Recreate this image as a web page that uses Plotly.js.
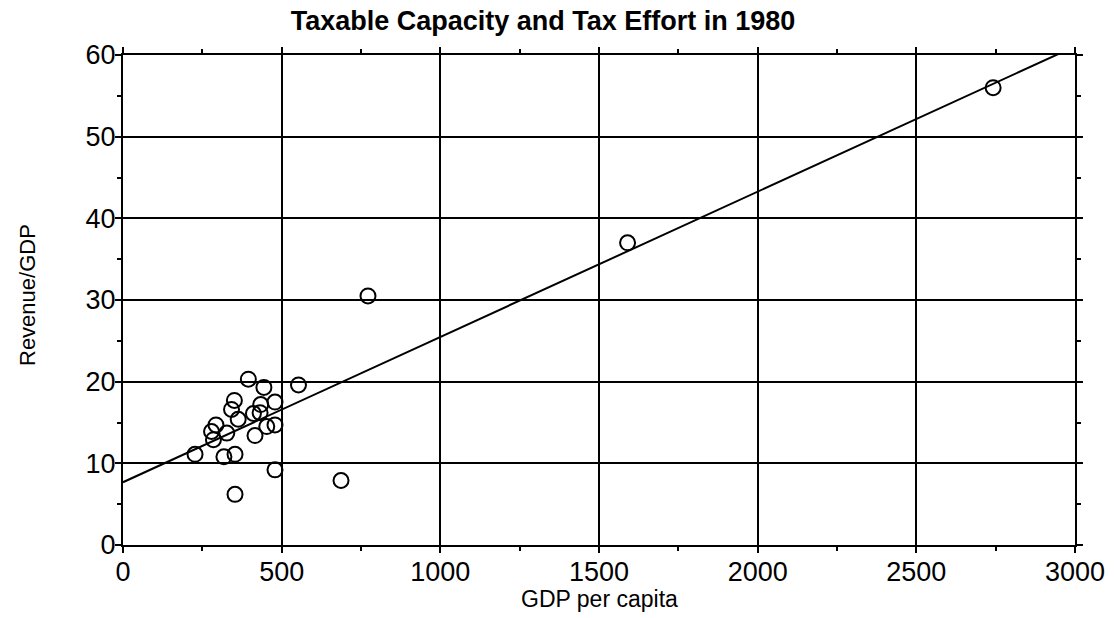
<!DOCTYPE html>
<html>
<head>
<meta charset="utf-8">
<script src="https://cdn.plot.ly/plotly-3.0.1.min.js"></script>
<style>html,body{margin:0;padding:0;background:#fff;}#chart{width:1114px;height:618px;}</style>
</head>
<body>
<div id="chart"></div>
<script>
// GDP per capita and Revenue/GDP (%)
const gdpPerCapita = [227, 279, 285, 293, 318, 327, 342, 351, 353, 353, 363, 395, 411, 416, 432, 434, 444, 453, 479, 479, 479, 553, 687, 772, 1590, 2742];
const revenueGdp   = [11.1, 13.9, 12.9, 14.7, 10.8, 13.7, 16.6, 17.7, 11.1, 6.2, 15.4, 20.3, 16.1, 13.4, 16.2, 17.2, 19.3, 14.5, 17.5, 14.7, 9.2, 19.6, 7.9, 30.5, 37.0, 56.0];
const xTicks = [0, 500, 1000, 1500, 2000, 2500, 3000];
const yTicks = [0, 10, 20, 30, 40, 50, 60];
const xRange = [0, 3000];
const yRange = [0, 60];

// Ordinary least squares fit line
const n = gdpPerCapita.length;
const mx = gdpPerCapita.reduce((a, b) => a + b, 0) / n;
const my = revenueGdp.reduce((a, b) => a + b, 0) / n;
let sxy = 0, sxx = 0;
for (let i = 0; i < n; i++) {
  sxy += (gdpPerCapita[i] - mx) * (revenueGdp[i] - my);
  sxx += (gdpPerCapita[i] - mx) ** 2;
}
const slope = sxy / sxx;
const intercept = my - slope * mx;
const fitX = xRange.slice();
const fitY = fitX.map(x => intercept + slope * x);

const font = 'Liberation Sans, Arial, sans-serif';

const traces = [
  {
    x: fitX, y: fitY, mode: 'lines', type: 'scatter',
    line: {color: 'black', width: 2}, hoverinfo: 'skip', showlegend: false
  },
  {
    x: gdpPerCapita, y: revenueGdp, mode: 'markers', type: 'scatter',
    marker: {symbol: 'circle-open', size: 15, color: 'black', line: {color: 'black', width: 2}},
    showlegend: false, cliponaxis: false
  }
];

const axisCommon = {
  showline: true, linecolor: 'black', linewidth: 2, mirror: 'allticks',
  ticks: 'outside', ticklen: 6, tickwidth: 2, tickcolor: 'black',
  showgrid: true, gridcolor: 'black', gridwidth: 2,
  zeroline: false,
  tickfont: {family: font, size: 27, color: 'black'}
};

const layout = {
  width: 1114, height: 618,
  paper_bgcolor: 'white', plot_bgcolor: 'white',
  margin: {l: 123, r: 39, t: 55, b: 73, pad: 0},
  title: {
    text: '<b>Taxable Capacity and Tax Effort in 1980</b>',
    font: {family: font, size: 27, color: 'black'},
    x: 543 / 1114, xanchor: 'center', xref: 'container',
    y: 1 - 21 / 618, yanchor: 'middle', yref: 'container'
  },
  xaxis: Object.assign({}, axisCommon, {
    range: xRange, tickvals: xTicks, ticktext: xTicks.map(String),
    ticklabelstandoff: -4,
    minor: {dtick: 250, tick0: 0, ticks: 'outside', ticklen: 4, tickwidth: 2, tickcolor: 'black', showgrid: false}
  }),
  yaxis: Object.assign({}, axisCommon, {
    range: yRange, tickvals: yTicks, ticktext: yTicks.map(String),
    ticklabelstandoff: -6,
    minor: {dtick: 5, tick0: 0, ticks: 'outside', ticklen: 4, tickwidth: 2, tickcolor: 'black', showgrid: false}
  }),
  annotations: [
    {
      text: 'GDP per capita', xref: 'paper', yref: 'paper',
      x: 0.5, y: (545 - 599) / 490, xanchor: 'center', yanchor: 'middle', showarrow: false,
      font: {family: font, size: 23, color: 'black'}
    },
    {
      text: 'Revenue/GDP', xref: 'paper', yref: 'paper', textangle: -90,
      x: (27 - 123) / 952, y: (545 - 295) / 490, xanchor: 'center', yanchor: 'middle', showarrow: false,
      font: {family: font, size: 22, color: 'black'}
    }
  ]
};

Plotly.newPlot('chart', traces, layout, {displayModeBar: false, staticPlot: true});
</script>
</body>
</html>
